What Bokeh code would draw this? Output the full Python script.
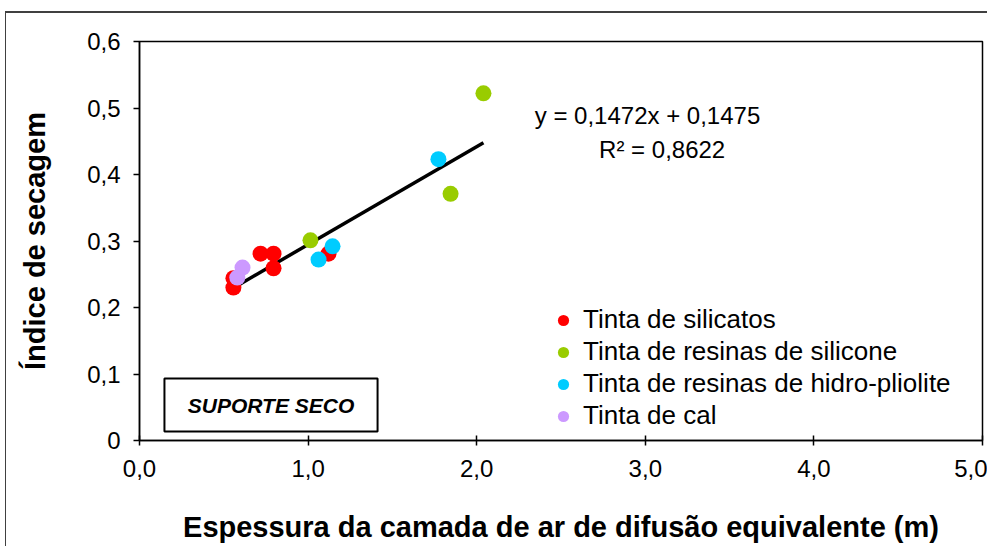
from bokeh.plotting import figure
from bokeh.models import (FixedTicker, Legend, LegendItem, Label, BoxAnnotation)
from bokeh.embed import file_html
from bokeh.resources import INLINE

# ---- data ----
silicatos_x = [0.557, 0.557, 0.718, 0.795, 0.795, 1.121]
silicatos_y = [0.230, 0.244, 0.281, 0.281, 0.259, 0.281]
silicone_x = [1.014, 2.040, 1.845]
silicone_y = [0.301, 0.522, 0.371]
pliolite_x = [1.773, 1.145, 1.062]
pliolite_y = [0.423, 0.292, 0.272]
cal_x = [0.580, 0.611]
cal_y = [0.245, 0.260]

series_names = ["Tinta de silicatos", "Tinta de resinas de silicone",
                "Tinta de resinas de hidro-pliolite", "Tinta de cal"]
series_colors = ["#FF0000", "#99CC00", "#00CCFF", "#CC99FF"]

slope = 0.1472
intercept = 0.1475

x_ticks = [0, 1, 2, 3, 4, 5]
x_labels = ["0,0", "1,0", "2,0", "3,0", "4,0", "5,0"]
y_ticks = [0, 0.1, 0.2, 0.3, 0.4, 0.5, 0.6]
y_labels = ["0", "0,1", "0,2", "0,3", "0,4", "0,5", "0,6"]

FONT = "Liberation Sans"

W, H = 987, 546
p = figure(width=W, height=H, output_backend="svg", toolbar_location=None,
           x_range=(0, 5), y_range=(0, 0.6))
p.min_border_left = 139
p.min_border_right = W - 982
p.min_border_top = 41
p.min_border_bottom = H - 440
p.background_fill_color = "white"
p.border_fill_color = None
p.styles = {
    "background": "linear-gradient(#404040,#404040) 5px 11px / 100% 2px no-repeat, "
                  "linear-gradient(#404040,#404040) 5px 11px / 1px 100% no-repeat, white"
}
p.outline_line_color = "black"
p.outline_line_width = 1.5
p.xgrid.visible = False
p.ygrid.visible = False

# axes
p.xaxis.ticker = FixedTicker(ticks=x_ticks)
p.xaxis.major_label_overrides = dict(zip(x_ticks, x_labels))
p.yaxis.ticker = FixedTicker(ticks=y_ticks)
p.yaxis.major_label_overrides = dict(zip(y_ticks, y_labels))
for ax in (p.xaxis[0], p.yaxis[0]):
    ax.axis_line_color = "black"
    ax.axis_line_width = 1.5
    ax.major_tick_line_color = "black"
    ax.major_tick_line_width = 1.5
    ax.minor_tick_line_color = None
    ax.major_label_text_font = FONT
    ax.major_label_text_font_size = "24px"
    ax.major_label_text_color = "black"
    ax.axis_label_text_font = FONT
    ax.axis_label_text_font_style = "bold"
    ax.axis_label_text_font_size = "29px"
    ax.axis_label_text_color = "black"
p.xaxis.major_tick_in = 5
p.xaxis.major_tick_out = 5
p.yaxis.major_tick_in = 0
p.yaxis.major_tick_out = 6
p.xaxis.major_label_standoff = 14
p.yaxis.major_label_standoff = 13
p.xaxis.axis_label = "Espessura da camada de ar de difusão equivalente (m)"
p.yaxis.axis_label = "Índice de secagem"
p.xaxis.axis_label_standoff = 31
p.yaxis.axis_label_standoff = 33

# trendline
all_x = silicatos_x + silicone_x + pliolite_x + cal_x
x0, x1 = min(all_x), max(all_x)
p.line([x0, x1], [slope * x0 + intercept, slope * x1 + intercept],
       line_color="black", line_width=3.5)

# scatter
items = []
for xs, ys, name, col in zip([silicatos_x, silicone_x, pliolite_x, cal_x],
                             [silicatos_y, silicone_y, pliolite_y, cal_y],
                             series_names, series_colors):
    r = p.scatter(xs, ys, size=16, marker="circle", fill_color=col, line_color=None)
    items.append(LegendItem(label=name, renderers=[r]))

legend = Legend(items=items, location=(410, 9), padding=0, margin=0,
                spacing=1, glyph_width=28, glyph_height=28, label_height=28,
                label_standoff=6, label_text_font=FONT, label_text_font_size="26px",
                label_text_color="black", border_line_color=None,
                background_fill_alpha=0)
p.add_layout(legend, "center")

# equation
p.add_layout(Label(x=3.013, y=0.488, text="y = 0,1472x + 0,1475", text_font=FONT,
                   text_font_size="24px", text_align="center", text_baseline="middle",
                   text_color="black"))
p.add_layout(Label(x=3.10, y=0.438, text="R² = 0,8622", text_font=FONT,
                   text_font_size="24px", text_align="center", text_baseline="middle",
                   text_color="black"))

# SUPORTE SECO box
p.add_layout(BoxAnnotation(left=0.148, right=1.412, bottom=0.0135, top=0.0932,
                           fill_color="white", fill_alpha=1, line_color="black",
                           line_alpha=1, line_width=2, level="annotation"))
p.add_layout(Label(x=0.78, y=0.0533, text="SUPORTE SECO", text_font=FONT,
                   text_font_size="21px", text_font_style="bold italic",
                   text_align="center", text_baseline="middle", text_color="black"))

open("out.html", "w").write(file_html(p, INLINE))
